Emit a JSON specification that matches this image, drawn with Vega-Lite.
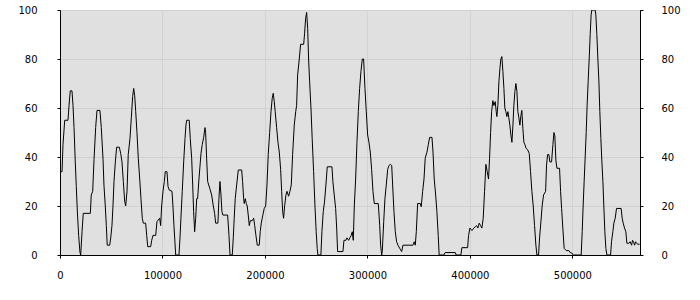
{
  "$schema": "https://vega.github.io/schema/vega-lite/v6.json",
  "width": 580,
  "height": 245,
  "autosize": {"type": "none"},
  "padding": {"left": 60, "top": 10, "right": 60, "bottom": 45},
  "background": "#ffffff",
  "config": {
    "view": {"fill": "#e0e0e0", "stroke": "#000000", "strokeWidth": 1},
    "axis": {
      "labelFont": "DejaVu Sans",
      "labelFontSize": 10,
      "labelColor": "#000000",
      "domainColor": "#000000",
      "tickColor": "#000000",
      "tickSize": 3,
      "gridColor": "#d2d2d2",
      "gridOpacity": 1,
      "labelFlush": false,
      "labelOverlap": false,
      "title": null
    }
  },
  "data": {"values": [
    {"x":0,"y":34},{"x":2000,"y":34},{"x":2900,"y":45},{"x":4600,"y":55},{"x":7800,"y":55},{"x":8800,"y":61},{"x":10000,"y":67},{"x":11700,"y":67},{"x":12700,"y":61},{"x":13700,"y":52},{"x":14900,"y":38},{"x":15900,"y":28},{"x":16900,"y":18},{"x":18200,"y":8},{"x":19500,"y":1},{"x":20200,"y":0},{"x":21500,"y":9.5},{"x":22700,"y":17},{"x":29600,"y":17},{"x":30500,"y":24.5},{"x":31900,"y":26},{"x":33200,"y":39},{"x":34800,"y":52},{"x":36100,"y":59},{"x":39000,"y":59},{"x":40300,"y":52},{"x":42000,"y":39},{"x":42900,"y":28.5},{"x":44200,"y":20},{"x":45200,"y":12},{"x":46100,"y":4},{"x":48500,"y":4},{"x":49500,"y":7},{"x":50700,"y":12},{"x":51700,"y":20},{"x":52700,"y":30},{"x":54000,"y":38},{"x":55300,"y":44},{"x":57900,"y":44},{"x":59200,"y":41.5},{"x":60500,"y":38},{"x":61800,"y":30},{"x":63100,"y":22},{"x":64100,"y":20},{"x":65400,"y":26},{"x":66600,"y":41},{"x":68300,"y":47.6},{"x":69600,"y":56},{"x":70900,"y":64.6},{"x":71900,"y":68},{"x":72900,"y":65},{"x":73900,"y":58.5},{"x":75100,"y":50},{"x":76400,"y":39.5},{"x":77800,"y":31},{"x":79000,"y":23},{"x":80300,"y":15},{"x":81300,"y":13},{"x":83600,"y":13},{"x":84600,"y":8},{"x":85600,"y":3.4},{"x":88500,"y":3.4},{"x":89500,"y":6},{"x":90700,"y":8},{"x":93400,"y":8},{"x":94600,"y":13.6},{"x":97300,"y":15},{"x":98200,"y":12},{"x":99200,"y":20},{"x":100500,"y":26},{"x":101800,"y":30},{"x":102700,"y":34},{"x":104400,"y":34},{"x":105400,"y":28},{"x":106600,"y":26.5},{"x":109300,"y":26},{"x":110200,"y":20},{"x":111200,"y":12},{"x":112200,"y":5},{"x":112900,"y":0},{"x":116100,"y":0},{"x":117100,"y":7},{"x":118000,"y":15},{"x":119300,"y":26},{"x":120700,"y":38},{"x":122000,"y":47.6},{"x":122900,"y":53},{"x":123600,"y":55},{"x":126100,"y":55},{"x":127100,"y":47.6},{"x":128500,"y":39.5},{"x":129500,"y":28.6},{"x":130400,"y":17.7},{"x":131400,"y":9.5},{"x":132400,"y":15},{"x":133400,"y":23},{"x":134300,"y":23},{"x":135600,"y":31},{"x":137600,"y":41.5},{"x":138800,"y":45},{"x":140200,"y":48},{"x":141500,"y":52},{"x":142100,"y":50},{"x":143100,"y":39.5},{"x":144100,"y":30},{"x":145100,"y":28.6},{"x":146300,"y":27},{"x":148000,"y":24.5},{"x":149600,"y":20},{"x":150900,"y":17},{"x":151900,"y":13},{"x":154100,"y":13},{"x":155100,"y":23},{"x":156100,"y":30},{"x":157100,"y":24.5},{"x":158000,"y":17.7},{"x":159000,"y":16.3},{"x":163600,"y":16.3},{"x":164900,"y":8},{"x":165900,"y":0},{"x":168100,"y":0},{"x":169100,"y":7},{"x":170000,"y":15},{"x":171000,"y":23},{"x":172400,"y":28.6},{"x":174000,"y":34.7},{"x":177300,"y":34.7},{"x":178200,"y":30},{"x":179200,"y":23},{"x":179800,"y":21},{"x":180800,"y":23},{"x":181800,"y":21},{"x":182700,"y":20},{"x":183700,"y":16.3},{"x":184700,"y":12},{"x":185700,"y":14},{"x":187600,"y":14},{"x":189000,"y":15},{"x":190000,"y":12},{"x":191200,"y":8},{"x":192500,"y":4},{"x":194400,"y":4},{"x":195400,"y":9.5},{"x":196400,"y":13},{"x":197800,"y":16},{"x":199300,"y":19},{"x":200700,"y":20},{"x":202000,"y":28.6},{"x":203200,"y":41},{"x":204600,"y":50},{"x":205900,"y":58.5},{"x":207100,"y":64},{"x":208100,"y":66},{"x":209100,"y":62.6},{"x":210000,"y":58.5},{"x":211400,"y":52},{"x":212700,"y":46},{"x":214000,"y":42},{"x":215300,"y":35},{"x":216300,"y":26},{"x":217300,"y":17.7},{"x":218200,"y":15},{"x":219200,"y":20},{"x":220500,"y":24.5},{"x":221500,"y":26},{"x":223100,"y":24},{"x":224400,"y":26},{"x":225700,"y":28.6},{"x":227000,"y":41},{"x":228600,"y":53},{"x":230000,"y":58.5},{"x":230900,"y":61},{"x":231900,"y":73.5},{"x":233500,"y":80},{"x":234800,"y":86},{"x":237800,"y":86},{"x":238700,"y":90.5},{"x":239700,"y":96.6},{"x":240700,"y":99},{"x":241700,"y":92.5},{"x":242600,"y":80},{"x":243600,"y":70.7},{"x":244900,"y":60},{"x":246100,"y":47.6},{"x":247500,"y":34},{"x":248800,"y":20},{"x":250000,"y":9.5},{"x":251000,"y":2.7},{"x":251700,"y":0},{"x":254600,"y":0},{"x":255600,"y":9.5},{"x":256900,"y":17.7},{"x":258200,"y":22},{"x":259500,"y":28.6},{"x":260800,"y":36},{"x":265400,"y":36},{"x":266300,"y":30},{"x":267600,"y":24.5},{"x":269000,"y":19},{"x":270000,"y":11},{"x":270900,"y":1.4},{"x":276100,"y":1.4},{"x":277100,"y":6},{"x":279000,"y":6},{"x":280000,"y":7},{"x":281700,"y":6},{"x":282900,"y":7},{"x":284200,"y":8},{"x":285200,"y":9.5},{"x":286200,"y":6},{"x":287200,"y":20},{"x":288500,"y":31},{"x":289800,"y":46},{"x":291100,"y":58.5},{"x":292400,"y":68},{"x":293700,"y":75},{"x":295000,"y":80},{"x":296300,"y":80},{"x":297600,"y":68},{"x":298900,"y":58.5},{"x":300200,"y":49},{"x":301500,"y":46},{"x":302800,"y":42},{"x":304100,"y":35},{"x":305400,"y":26},{"x":306700,"y":21},{"x":310600,"y":21},{"x":312000,"y":12},{"x":312900,"y":4},{"x":313900,"y":0},{"x":314500,"y":1.4},{"x":315900,"y":13.6},{"x":317100,"y":23},{"x":318400,"y":28.6},{"x":319800,"y":35},{"x":321000,"y":36.5},{"x":322300,"y":37},{"x":323700,"y":36.5},{"x":324600,"y":28.6},{"x":325900,"y":17.7},{"x":327200,"y":9.5},{"x":328500,"y":5.4},{"x":329800,"y":4},{"x":331500,"y":2.7},{"x":333400,"y":1.4},{"x":334700,"y":4},{"x":344400,"y":4},{"x":345700,"y":5.4},{"x":346700,"y":4},{"x":347700,"y":9.5},{"x":349000,"y":21},{"x":351600,"y":21},{"x":352500,"y":19.7},{"x":353900,"y":26},{"x":355200,"y":31},{"x":356400,"y":39.5},{"x":358100,"y":42},{"x":359400,"y":45},{"x":360700,"y":48},{"x":363000,"y":48},{"x":364000,"y":42},{"x":365200,"y":31},{"x":366600,"y":24.5},{"x":367800,"y":17.7},{"x":369100,"y":8},{"x":370000,"y":0},{"x":374600,"y":0},{"x":375900,"y":1},{"x":385700,"y":1},{"x":386600,"y":0},{"x":391200,"y":0},{"x":392200,"y":3},{"x":397800,"y":3},{"x":398700,"y":8},{"x":400000,"y":11},{"x":402000,"y":10},{"x":403900,"y":11},{"x":405200,"y":11.5},{"x":406500,"y":12},{"x":407800,"y":11},{"x":409100,"y":13},{"x":410400,"y":12},{"x":411700,"y":11},{"x":413000,"y":15},{"x":414300,"y":26},{"x":415600,"y":37},{"x":416900,"y":34},{"x":418200,"y":31},{"x":419200,"y":39.5},{"x":420200,"y":50},{"x":421200,"y":58.5},{"x":422400,"y":63},{"x":423400,"y":61},{"x":424700,"y":62.6},{"x":425700,"y":58.5},{"x":426300,"y":56.5},{"x":427300,"y":61},{"x":428300,"y":70.7},{"x":429300,"y":76},{"x":430200,"y":80},{"x":431200,"y":81},{"x":432200,"y":75},{"x":433200,"y":68},{"x":434100,"y":60},{"x":435100,"y":58.5},{"x":436100,"y":56.5},{"x":437100,"y":58.5},{"x":438000,"y":56},{"x":439000,"y":53},{"x":440000,"y":49},{"x":441000,"y":46},{"x":442000,"y":53},{"x":442900,"y":61},{"x":443900,"y":66.7},{"x":444900,"y":70},{"x":445900,"y":66.7},{"x":446800,"y":58.5},{"x":447800,"y":56},{"x":448800,"y":53},{"x":449800,"y":57},{"x":450700,"y":59},{"x":451700,"y":51.7},{"x":452700,"y":46},{"x":453700,"y":45},{"x":454900,"y":43.5},{"x":456300,"y":43},{"x":457900,"y":41.5},{"x":459200,"y":34},{"x":460500,"y":26},{"x":461800,"y":20},{"x":463100,"y":12},{"x":464400,"y":4},{"x":465400,"y":0},{"x":467000,"y":0},{"x":468000,"y":7},{"x":469300,"y":13.6},{"x":470500,"y":20},{"x":471900,"y":24.5},{"x":473900,"y":26},{"x":474800,"y":36.7},{"x":475800,"y":41},{"x":477100,"y":41},{"x":478000,"y":38},{"x":479700,"y":38},{"x":481000,"y":45},{"x":482000,"y":50},{"x":482900,"y":48.6},{"x":483900,"y":38.8},{"x":484900,"y":35.4},{"x":487500,"y":35.4},{"x":488500,"y":26},{"x":489500,"y":19},{"x":490700,"y":11},{"x":492000,"y":2.7},{"x":494000,"y":1.8},{"x":496600,"y":1.8},{"x":497900,"y":1},{"x":499800,"y":0.7},{"x":500800,"y":0},{"x":508600,"y":0},{"x":509600,"y":9.5},{"x":510500,"y":20},{"x":511500,"y":30},{"x":512500,"y":40},{"x":513500,"y":50},{"x":514400,"y":61},{"x":515400,"y":70.7},{"x":516400,"y":80},{"x":517400,"y":90},{"x":518300,"y":98},{"x":519000,"y":100},{"x":522200,"y":100},{"x":522900,"y":98},{"x":523900,"y":90},{"x":524900,"y":80},{"x":525900,"y":70.7},{"x":526800,"y":58.5},{"x":527800,"y":47.6},{"x":528800,"y":38},{"x":529800,"y":30},{"x":530700,"y":20},{"x":531700,"y":9.5},{"x":532700,"y":2.7},{"x":533700,"y":0},{"x":537300,"y":0},{"x":538200,"y":5.4},{"x":539500,"y":9.5},{"x":540500,"y":13},{"x":541800,"y":15},{"x":543100,"y":19},{"x":547600,"y":19},{"x":548600,"y":15},{"x":549600,"y":13},{"x":550900,"y":11},{"x":552200,"y":9.5},{"x":553200,"y":4.8},{"x":555100,"y":4.8},{"x":556400,"y":5.4},{"x":557800,"y":4},{"x":558700,"y":6},{"x":559700,"y":5.4},{"x":560700,"y":4},{"x":561700,"y":5.4},{"x":562600,"y":4.8},{"x":563900,"y":4.4},{"x":565600,"y":4.4}
  ]},
  "encoding": {
    "x": {
      "field": "x",
      "type": "quantitative",
      "scale": {"domain": [0, 566000], "nice": false, "zero": false},
      "axis": {"values": [0, 100000, 200000, 300000, 400000, 500000], "format": "d", "labelPadding": 12, "grid": true}
    }
  },
  "layer": [
    {
      "mark": {"type": "line", "color": "#000000", "strokeWidth": 1, "clip": true},
      "encoding": {
        "y": {
          "field": "y",
          "type": "quantitative",
          "scale": {"domain": [0, 100], "nice": false},
          "axis": {"orient": "left", "values": [0, 20, 40, 60, 80, 100], "labelPadding": 20, "grid": true}
        }
      }
    },
    {
      "mark": {"type": "line", "opacity": 0},
      "encoding": {
        "y": {
          "field": "y",
          "type": "quantitative",
          "scale": {"domain": [0, 100], "nice": false},
          "axis": {"orient": "right", "values": [0, 20, 40, 60, 80, 100], "labelPadding": 18, "grid": false}
        }
      }
    }
  ],
  "resolve": {"scale": {"y": "independent"}}
}
